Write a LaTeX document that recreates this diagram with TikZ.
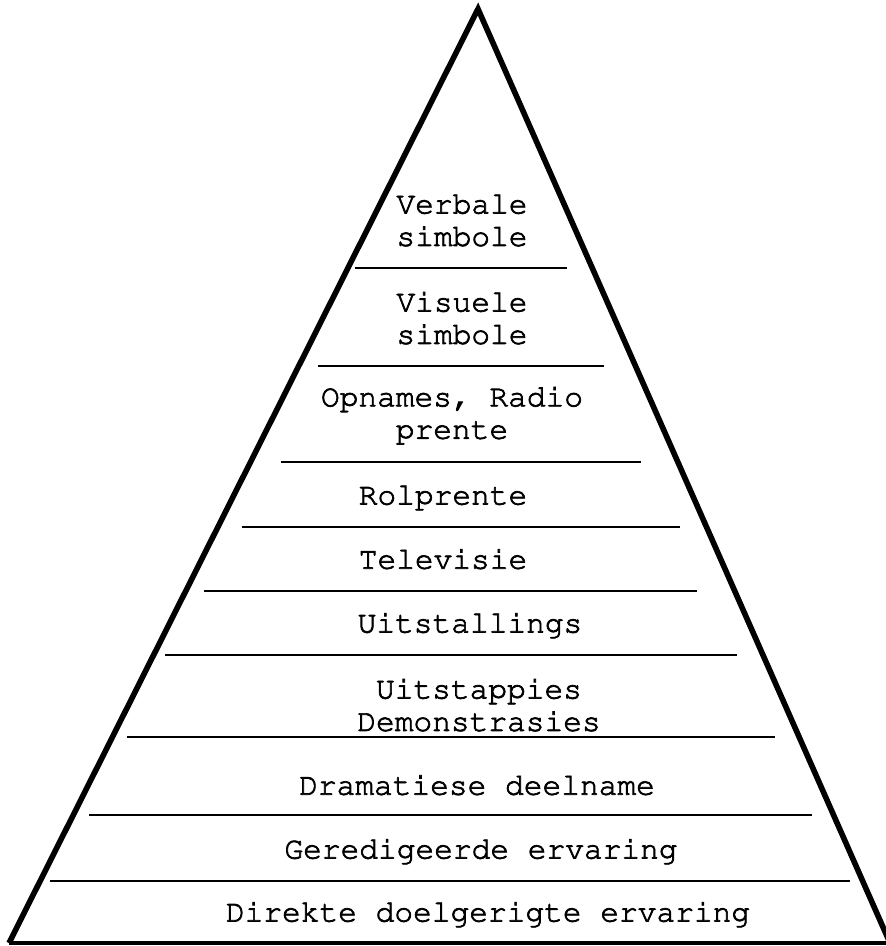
\documentclass[tikz,border=0pt]{standalone}
\usepackage[T1]{fontenc}
\usepackage{courier}
\usepackage{tikz}

%etwas kraeftigere Schrift (Umriss mitzeichnen)
\newcommand{\kraeftig}{\special{pdf:literal direct 2 Tr 0.35 w}}

\begin{document}
\begin{tikzpicture}
		[
		x=0.5pt, y=-0.5pt, font=\ttfamily\fontsize{15.6}{16.2}\selectfont,
		stufe/.style={align=center, inner sep=0pt, execute at begin node=\kraeftig}
		%Voreinstellung für die Beschriftungen
		]
		
		%Rahmen des Bildes
		\useasboundingbox (0,0) rectangle (886,946);
		
		%Seiten der Pyramide
		\draw[line width=2.8pt, line join=miter] (9,943) -- (478,9) -- (890,943);
		
		%Grundlinie
		\draw[line width=1.6pt] (9,943) -- (886,943);
		
		%Trennlinien zwischen den Stufen
		\foreach \y/\a/\b in {268/355/567, 366/318/604, 462/281/641, 527/242/680, 591/204/697, 655/165/737, 737/127/775, 815/89/812, 881/50/850}
		\draw[line width=1pt] (\a,\y) -- (\b,\y);
		
		%Stufen von oben nach unten
		\node[stufe] (verbaal) at (462,220) {Verbale\\simbole};
		\node[stufe] (visueel) at (462,318) {Visuele\\simbole};
		\node[stufe] (opnames) at (452,415) {Opnames, Radio\\prente};
		\node[stufe] (rolprent) at (443,497) {Rolprente};
		\node[stufe] (tv) at (443,559) {Televisie};
		\node[stufe] (uitstal) at (470,625) {Uitstallings};
		\node[stufe] (uitstap) at (479,705) {Uitstappies\\Demonstrasies};
		\node[stufe] (drama) at (477,785) {Dramatiese deelname};
		\node[stufe] (geredigeer) at (481,851) {Geredigeerde ervaring};
		\node[stufe] (direk) at (488,914) {Direkte doelgerigte ervaring};
		
\end{tikzpicture}
\end{document}
